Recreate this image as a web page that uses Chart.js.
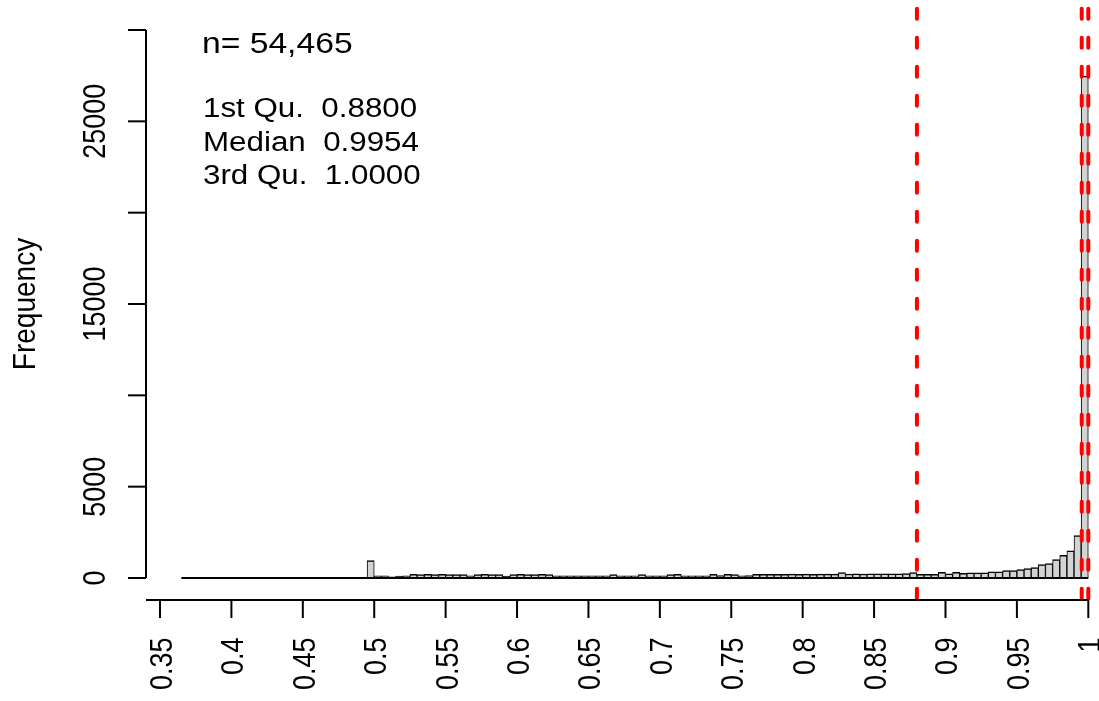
<!DOCTYPE html>
<html>
<head>
<meta charset="utf-8">
<script src="https://cdn.jsdelivr.net/npm/chart.js@4.4.1/dist/chart.umd.min.js"></script>
<style>
  html, body { margin: 0; padding: 0; background: #ffffff; }
  canvas { display: block; }
</style>
</head>
<body>
<canvas id="hist" width="1099" height="701"></canvas>
<script>
// Histogram bins: left edge of the first bin and common bin width
const firstBreak = 0.365;
const binWidth = 0.005;

// Counts per bin, from (0.365, 0.37] up to (0.995, 1.0]
const counts = [
  1, 0, 0, 0, 0, 0, 0, 0, 0, 0, 0, 0, 0, 0, 0, 0, 0, 0, 0, 0, 0, 0, 0, 0, 0, 0,
  950,
  120, 115, 60, 110, 115,
  195, 190, 195, 190, 195, 190, 190, 185,
  120,
  190, 195, 190, 185,
  100,
  190, 195, 190, 190, 195, 185,
  120, 115, 120, 115, 120, 115, 120, 125,
  190,
  120, 115, 120,
  190,
  120, 115, 125,
  190, 195,
  120, 125, 115, 125,
  195,
  130,
  195, 190,
  125, 130,
  200, 205, 200, 205, 200, 210, 205, 210, 205, 210, 215, 210,
  290,
  220,
  225, 220, 230, 225, 230, 235, 230, 240,
  300,
  200, 200, 200, 310, 230, 310, 260, 285, 285, 285, 340, 340,
  400, 410, 465, 520, 575, 740, 790, 1010, 1240, 1490, 2320, 27480
];

// Axis ticks
const xTicks = [0.35, 0.4, 0.45, 0.5, 0.55, 0.6, 0.65, 0.7, 0.75, 0.8, 0.85, 0.9, 0.95, 1];
const xTickLabels = ["0.35", "0.4", "0.45", "0.5", "0.55", "0.6", "0.65", "0.7", "0.75", "0.8", "0.85", "0.9", "0.95", "1"];
const yTicks = [0, 5000, 10000, 15000, 20000, 25000, 30000];
const yTickLabels = ["0", "5000", "", "15000", "", "25000", ""];
const yTitle = "Frequency";

// Summary statistics shown as text and as dashed reference lines
const quartileNames = ["1st Qu.", "Median", "3rd Qu."];
const quartiles = [0.88, 0.9954, 1.0];
const sampleSize = 54465;

const FONT = '"Liberation Sans", Arial, Helvetica, sans-serif';
const X_STRETCH = 1.14;

function drawLabel(ctx, text, x, y, opts) {
  ctx.save();
  ctx.translate(x, y);
  ctx.scale(opts.stretch || X_STRETCH, 1);
  if (opts.rotate) ctx.rotate(-Math.PI / 2);
  ctx.font = opts.size + 'px ' + FONT;
  ctx.textAlign = opts.align || 'left';
  ctx.textBaseline = 'alphabetic';
  ctx.fillStyle = '#000000';
  ctx.fillText(text, 0, 0);
  ctx.restore();
}

const histDecor = {
  id: 'histDecor',
  afterDatasetsDraw(chart) {
    const { ctx, chartArea, scales: { x, y } } = chart;
    const y0 = y.getPixelForValue(0);
    ctx.save();
    // bottom edge running under every bin, including the empty ones
    ctx.strokeStyle = '#000000';
    ctx.lineWidth = 2;
    ctx.beginPath();
    ctx.moveTo(x.getPixelForValue(firstBreak), y0);
    ctx.lineTo(x.getPixelForValue(firstBreak + binWidth * counts.length), y0);
    ctx.stroke();

    // dashed quartile lines
    ctx.beginPath();
    ctx.rect(chartArea.left, chartArea.top, chartArea.right - chartArea.left, chartArea.bottom - chartArea.top);
    ctx.clip();
    ctx.strokeStyle = '#FF0000';
    ctx.lineWidth = 4;
    ctx.lineCap = 'round';
    ctx.setLineDash([10, 19]);
    ctx.lineDashOffset = 20.3;
    quartiles.forEach(q => {
      const px = x.getPixelForValue(q);
      ctx.beginPath();
      ctx.moveTo(px, chartArea.top);
      ctx.lineTo(px, chartArea.bottom);
      ctx.stroke();
    });
    ctx.restore();
  },
  afterDraw(chart) {
    const { ctx, chartArea, scales: { x, y } } = chart;
    ctx.save();
    ctx.strokeStyle = '#000000';
    ctx.lineWidth = 2;
    ctx.lineCap = 'butt';

    // y axis
    const ax = chartArea.left;
    ctx.beginPath();
    ctx.moveTo(ax, y.getPixelForValue(yTicks[0]));
    ctx.lineTo(ax, y.getPixelForValue(yTicks[yTicks.length - 1]));
    ctx.stroke();
    yTicks.forEach((v, i) => {
      const py = y.getPixelForValue(v);
      ctx.beginPath();
      ctx.moveTo(ax - 18, py);
      ctx.lineTo(ax, py);
      ctx.stroke();
      if (yTickLabels[i]) drawLabel(ctx, yTickLabels[i], ax - 41, py, { rotate: true, align: 'center', size: 27 });
    });
    const yMid = (y.getPixelForValue(yTicks[0]) + y.getPixelForValue(yTicks[yTicks.length - 1])) / 2;
    drawLabel(ctx, yTitle, 35, yMid, { rotate: true, align: 'center', size: 28 });

    // x axis
    const ay = chartArea.bottom;
    ctx.beginPath();
    ctx.moveTo(chartArea.left, ay);
    ctx.lineTo(x.getPixelForValue(xTicks[xTicks.length - 1]), ay);
    ctx.stroke();
    xTicks.forEach((v, i) => {
      const px = x.getPixelForValue(v);
      ctx.beginPath();
      ctx.moveTo(px, ay);
      ctx.lineTo(px, ay + 18);
      ctx.stroke();
      drawLabel(ctx, xTickLabels[i], px + 12, ay + 37.5, { rotate: true, align: 'right', size: 27 });
    });

    // summary text
    drawLabel(ctx, 'n= ' + sampleSize.toLocaleString('en-US'), 202, 53, { size: 29, stretch: 1.16 });
    const baselines = [117, 151, 184];
    quartileNames.forEach((name, i) => {
      drawLabel(ctx, name + '  ' + quartiles[i].toFixed(4), 203, baselines[i], { size: 27, stretch: 1.16 });
    });
    ctx.restore();
  }
};

// pixel layout: value 0.35 sits 14px right of the plot's left edge, 1.0 at 1088px
const pxPerUnitX = 1428.2;
const xMin = 0.35 - 14 / pxPerUnitX;
const xMax = 1.0 + 6.7 / pxPerUnitX;
const pxPerUnitY = 548 / 30000;
const yMin = -22 / pxPerUnitY;
const yMax = 30000 + 30 / pxPerUnitY;

new Chart(document.getElementById('hist'), {
  type: 'bar',
  data: {
    datasets: [{
      data: counts.map((c, i) => ({ x: firstBreak + binWidth * (i + 0.5), y: c })),
      backgroundColor: '#D3D3D3',
      borderColor: '#000000',
      borderWidth: { top: 1.5, left: 1, right: 1, bottom: 0 },
      borderSkipped: false,
      barPercentage: 1,
      categoryPercentage: 1,
      grouped: false
    }]
  },
  options: {
    responsive: false,
    animation: false,
    devicePixelRatio: 1,
    layout: { padding: { left: 146, right: 4, top: 0, bottom: 101 } },
    plugins: { legend: { display: false }, tooltip: { enabled: false } },
    scales: {
      x: { type: 'linear', display: false, offset: false, min: xMin, max: xMax, bounds: 'data' },
      y: { type: 'linear', display: false, min: yMin, max: yMax }
    }
  },
  plugins: [histDecor]
});
</script>
</body>
</html>
